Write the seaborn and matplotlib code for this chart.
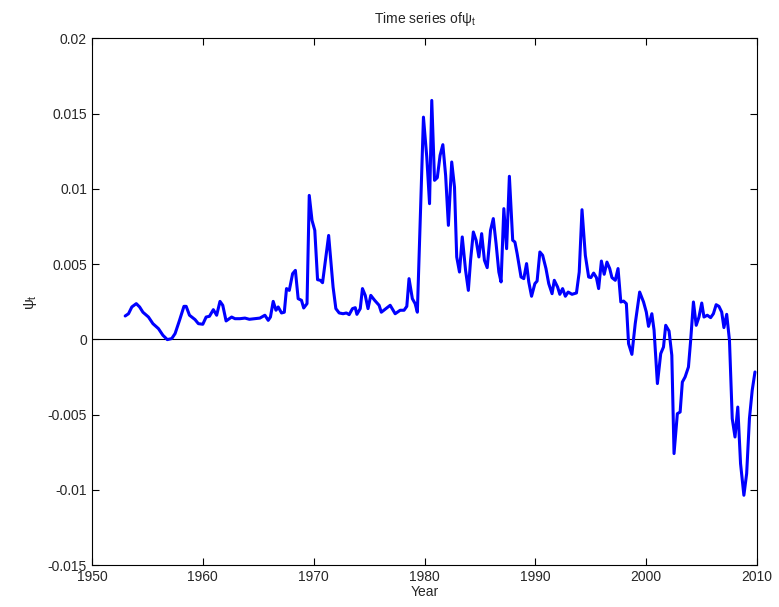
import numpy as np
import pandas as pd
import matplotlib
matplotlib.use('Agg')
import matplotlib.pyplot as plt
from matplotlib.ticker import FuncFormatter
import seaborn as sns

# values
years = [1953.0, 1953.3, 1953.6, 1954.0, 1954.3, 1954.6, 1955.1, 1955.5, 1956.0, 1956.4,
         1956.8, 1957.2, 1957.5, 1957.9, 1958.3, 1958.5, 1958.8, 1959.3, 1959.6, 1960.0,
         1960.3, 1960.6, 1960.95, 1961.25, 1961.55, 1961.8, 1962.1, 1962.6, 1962.9, 1963.35,
         1963.8, 1964.2, 1965.15, 1965.6, 1965.9, 1966.1, 1966.35, 1966.6, 1966.8, 1967.1,
         1967.35, 1967.55, 1967.8, 1968.1, 1968.35, 1968.6, 1968.9, 1969.1, 1969.4, 1969.6,
         1969.85, 1970.1, 1970.35, 1970.6, 1970.8, 1971.35, 1971.75, 1972.0, 1972.3, 1972.65,
         1972.95, 1973.2, 1973.5, 1973.75, 1973.9, 1974.2, 1974.4, 1974.65, 1974.9, 1975.15,
         1975.5, 1975.9, 1976.1, 1976.9, 1977.35, 1977.8, 1978.15, 1978.4, 1978.6, 1978.9,
         1979.15, 1979.35, 1979.9, 1980.2, 1980.45, 1980.65, 1980.9, 1981.15, 1981.4, 1981.65,
         1981.9, 1982.15, 1982.45, 1982.7, 1982.9, 1983.15, 1983.4, 1983.7, 1983.95, 1984.15,
         1984.4, 1984.65, 1984.9, 1985.15, 1985.4, 1985.65, 1985.95, 1986.2, 1986.45, 1986.7,
         1986.9, 1987.15, 1987.4, 1987.65, 1987.95, 1988.15, 1988.35, 1988.7, 1988.95, 1989.2,
         1989.4, 1989.65, 1989.95, 1990.15, 1990.4, 1990.65, 1990.95, 1991.2, 1991.5, 1991.7,
         1992.0, 1992.2, 1992.45, 1992.7, 1992.95, 1993.3, 1993.7, 1993.95, 1994.2, 1994.5,
         1994.8, 1995.0, 1995.25, 1995.5, 1995.7, 1995.95, 1996.2, 1996.45, 1996.7, 1996.9,
         1997.2, 1997.45, 1997.7, 1997.95, 1998.2, 1998.4, 1998.7, 1999.0, 1999.4, 1999.75,
         2000.0, 2000.2, 2000.5, 2000.7, 2001.0, 2001.3, 2001.55, 2001.75, 2002.05, 2002.3,
         2002.5, 2002.8, 2003.05, 2003.25, 2003.5, 2003.8, 2004.0, 2004.25, 2004.5, 2004.75,
         2005.0, 2005.2, 2005.5, 2005.8, 2006.05, 2006.3, 2006.55, 2006.8, 2007.0, 2007.25,
         2007.5, 2007.75, 2008.0, 2008.25, 2008.5, 2008.8, 2009.05, 2009.3, 2009.55, 2009.8]

psi = [0.00155, 0.0017, 0.00215, 0.00237, 0.00215, 0.0018, 0.00148, 0.00104, 0.00071, 0.00027,
       -0.00002, 0.00005, 0.00038, 0.00126, 0.00219, 0.00219, 0.0016, 0.00131, 0.00104, 0.001,
       0.00148, 0.00153, 0.00197, 0.0016, 0.00252, 0.00226, 0.00122, 0.00148, 0.00137, 0.00137,
       0.00141, 0.00133, 0.00141, 0.0016, 0.00126, 0.00148, 0.00252, 0.00193, 0.00215, 0.00175,
       0.0018, 0.00337, 0.00325, 0.00436, 0.00458, 0.0027, 0.00259, 0.00208, 0.00237, 0.00956,
       0.0079, 0.00724, 0.00396, 0.00392, 0.00376, 0.0069, 0.00347, 0.00204, 0.00175, 0.0017,
       0.00175, 0.00164, 0.00204, 0.0021, 0.00166, 0.00204, 0.00337, 0.00292, 0.00204, 0.00292,
       0.00259, 0.00226, 0.0018, 0.00226, 0.0017, 0.00193, 0.00193, 0.00219, 0.00403, 0.0027,
       0.00237, 0.0018, 0.01476, 0.01211, 0.00901, 0.01587, 0.01056, 0.01074, 0.01222, 0.01293,
       0.01089, 0.00757, 0.01178, 0.01011, 0.00547, 0.00447, 0.0068, 0.00458, 0.00325, 0.00525,
       0.00713, 0.00658, 0.00547, 0.00702, 0.00525, 0.00476, 0.00724, 0.00802, 0.00636, 0.00447,
       0.00381, 0.00868, 0.00602, 0.01083, 0.00658, 0.00646, 0.00569, 0.00414, 0.00403, 0.00503,
       0.00381, 0.00286, 0.0037, 0.00387, 0.0058, 0.00558, 0.0047, 0.0037, 0.00303, 0.00392,
       0.00347, 0.00299, 0.00337, 0.00286, 0.00314, 0.00299, 0.00308, 0.00447, 0.00861, 0.00558,
       0.00414, 0.0041, 0.0044, 0.0041, 0.00337, 0.0052, 0.00432, 0.00513, 0.0047, 0.0041,
       0.00392, 0.0047, 0.00248, 0.00254, 0.00237, -0.00029, -0.001, 0.00104, 0.00314, 0.00248,
       0.00181, 0.00086, 0.0017, 0.0006, -0.00294, -0.00095, -0.00051, 0.00093, 0.00055, -0.00106,
       -0.00759, -0.00494, -0.00483, -0.00284, -0.0025, -0.00184, -0.00007, 0.00248, 0.00093, 0.00148,
       0.00241, 0.00148, 0.0016, 0.00144, 0.0017, 0.0023, 0.00219, 0.00181, 0.00078, 0.00166,
       -0.00007, -0.00527, -0.00649, -0.0045, -0.00826, -0.01036, -0.00892, -0.00527, -0.00339, -0.00217]

x_ticks = [1950, 1960, 1970, 1980, 1990, 2000, 2010]
y_ticks = [-0.015, -0.01, -0.005, 0, 0.005, 0.01, 0.015, 0.02]

df = pd.DataFrame({'Year': years, 'psi': psi})

sns.set_style('ticks')
plt.rcParams['font.family'] = ['Liberation Sans', 'DejaVu Sans']
plt.rcParams['mathtext.fontset'] = 'custom'
plt.rcParams['mathtext.rm'] = 'Liberation Sans'
plt.rcParams['mathtext.it'] = 'Liberation Sans'

fig = plt.figure(figsize=(7.79, 6.07), dpi=100)
ax = fig.add_axes([0.118, 0.069, 0.854, 0.868])

ax.axhline(0, color='black', linewidth=0.8, zorder=1)
sns.lineplot(data=df, x='Year', y='psi', color='blue', linewidth=2.2, sort=False, ax=ax, zorder=2)

ax.set_xlim(1950, 2010)
ax.set_ylim(-0.015, 0.02)
ax.set_xticks(x_ticks)
ax.set_yticks(y_ticks)
ax.yaxis.set_major_formatter(FuncFormatter(lambda v, p: '%g' % round(v, 4)))
ax.tick_params(direction='in', top=True, right=True, labelsize=10, length=5, width=0.8, color='black')
for s in ax.spines.values():
    s.set_linewidth(0.8)
    s.set_color('black')

ax.set_title('Time series of$\\psi_t$', fontsize=10, pad=11)
ax.set_xlabel('Year', fontsize=10, labelpad=1)
ax.set_ylabel('$\\psi_t$', fontsize=11, labelpad=6)

fig.savefig('out.png', dpi=100)
